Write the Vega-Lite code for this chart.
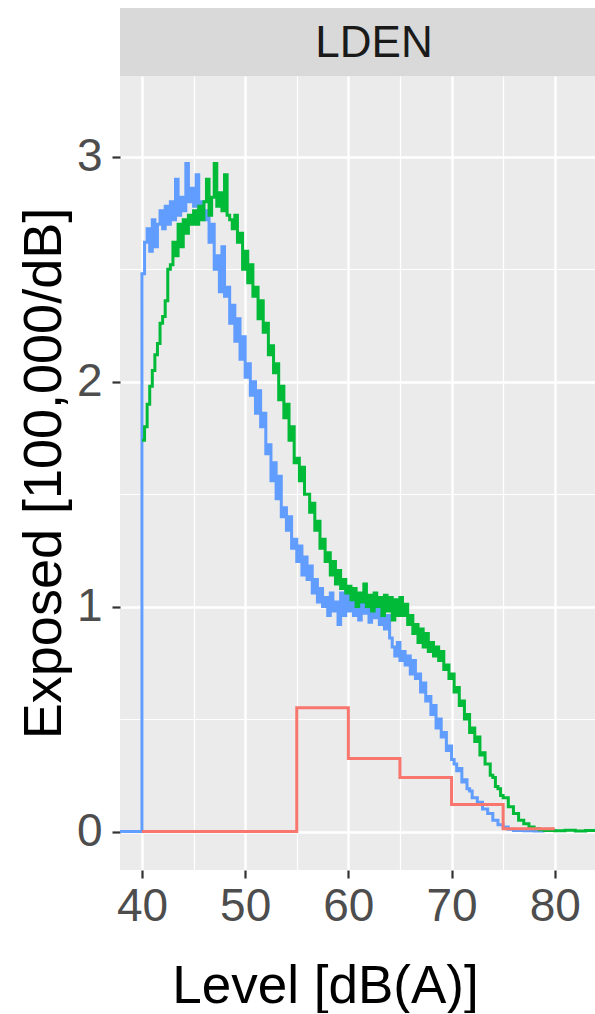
{
  "$schema": "https://vega.github.io/schema/vega-lite/v6.json",
  "background": "white",
  "padding": {"left": 17, "top": 8, "right": 0, "bottom": 0},
  "config": {
    "font": "Liberation Sans",
    "concat": {"spacing": 0}
  },
  "datasets": {
    "strip": [{"panel": "LDEN"}],
    "curves": [
      {"series": "Model B", "level": 35, "exposed": 0},
      {"series": "Model B", "level": 40, "exposed": 2.48},
      {"series": "Model B", "level": 40.25, "exposed": 2.62},
      {"series": "Model B", "level": 40.5, "exposed": 2.68},
      {"series": "Model B", "level": 40.75, "exposed": 2.58},
      {"series": "Model B", "level": 41, "exposed": 2.72},
      {"series": "Model B", "level": 41.25, "exposed": 2.6},
      {"series": "Model B", "level": 41.5, "exposed": 2.7},
      {"series": "Model B", "level": 41.75, "exposed": 2.76},
      {"series": "Model B", "level": 42, "exposed": 2.68},
      {"series": "Model B", "level": 42.25, "exposed": 2.78},
      {"series": "Model B", "level": 42.5, "exposed": 2.7},
      {"series": "Model B", "level": 42.75, "exposed": 2.8},
      {"series": "Model B", "level": 43, "exposed": 2.72},
      {"series": "Model B", "level": 43.25, "exposed": 2.9},
      {"series": "Model B", "level": 43.5, "exposed": 2.74},
      {"series": "Model B", "level": 43.75, "exposed": 2.82},
      {"series": "Model B", "level": 44, "exposed": 2.76},
      {"series": "Model B", "level": 44.25, "exposed": 2.97},
      {"series": "Model B", "level": 44.5, "exposed": 2.8},
      {"series": "Model B", "level": 44.75, "exposed": 2.86},
      {"series": "Model B", "level": 45, "exposed": 2.78},
      {"series": "Model B", "level": 45.25, "exposed": 2.92},
      {"series": "Model B", "level": 45.5, "exposed": 2.74},
      {"series": "Model B", "level": 45.75, "exposed": 2.8},
      {"series": "Model B", "level": 46, "exposed": 2.72},
      {"series": "Model B", "level": 46.25, "exposed": 2.76},
      {"series": "Model B", "level": 46.5, "exposed": 2.62},
      {"series": "Model B", "level": 46.75, "exposed": 2.7},
      {"series": "Model B", "level": 47, "exposed": 2.5},
      {"series": "Model B", "level": 47.25, "exposed": 2.56},
      {"series": "Model B", "level": 47.5, "exposed": 2.4},
      {"series": "Model B", "level": 47.75, "exposed": 2.6},
      {"series": "Model B", "level": 48, "exposed": 2.38},
      {"series": "Model B", "level": 48.25, "exposed": 2.42},
      {"series": "Model B", "level": 48.5, "exposed": 2.26},
      {"series": "Model B", "level": 48.75, "exposed": 2.34},
      {"series": "Model B", "level": 49, "exposed": 2.18},
      {"series": "Model B", "level": 49.25, "exposed": 2.28},
      {"series": "Model B", "level": 49.5, "exposed": 2.1},
      {"series": "Model B", "level": 49.75, "exposed": 2.2},
      {"series": "Model B", "level": 50, "exposed": 2.02},
      {"series": "Model B", "level": 50.25, "exposed": 2.08},
      {"series": "Model B", "level": 50.5, "exposed": 1.94},
      {"series": "Model B", "level": 50.75, "exposed": 2.0},
      {"series": "Model B", "level": 51, "exposed": 1.86},
      {"series": "Model B", "level": 51.25, "exposed": 1.96},
      {"series": "Model B", "level": 51.5, "exposed": 1.8},
      {"series": "Model B", "level": 51.75, "exposed": 1.86},
      {"series": "Model B", "level": 52, "exposed": 1.68},
      {"series": "Model B", "level": 52.25, "exposed": 1.72},
      {"series": "Model B", "level": 52.5, "exposed": 1.56},
      {"series": "Model B", "level": 52.75, "exposed": 1.64},
      {"series": "Model B", "level": 53, "exposed": 1.48},
      {"series": "Model B", "level": 53.25, "exposed": 1.58},
      {"series": "Model B", "level": 53.5, "exposed": 1.4},
      {"series": "Model B", "level": 53.75, "exposed": 1.44},
      {"series": "Model B", "level": 54, "exposed": 1.34},
      {"series": "Model B", "level": 54.25, "exposed": 1.4},
      {"series": "Model B", "level": 54.5, "exposed": 1.26},
      {"series": "Model B", "level": 54.75, "exposed": 1.3},
      {"series": "Model B", "level": 55, "exposed": 1.2},
      {"series": "Model B", "level": 55.25, "exposed": 1.27},
      {"series": "Model B", "level": 55.5, "exposed": 1.14},
      {"series": "Model B", "level": 55.75, "exposed": 1.22},
      {"series": "Model B", "level": 56, "exposed": 1.12},
      {"series": "Model B", "level": 56.25, "exposed": 1.18},
      {"series": "Model B", "level": 56.5, "exposed": 1.06},
      {"series": "Model B", "level": 56.75, "exposed": 1.12},
      {"series": "Model B", "level": 57, "exposed": 1.02},
      {"series": "Model B", "level": 57.25, "exposed": 1.08},
      {"series": "Model B", "level": 57.5, "exposed": 1.0},
      {"series": "Model B", "level": 57.75, "exposed": 1.04},
      {"series": "Model B", "level": 58, "exposed": 0.96},
      {"series": "Model B", "level": 58.25, "exposed": 1.06},
      {"series": "Model B", "level": 58.5, "exposed": 0.98},
      {"series": "Model B", "level": 58.75, "exposed": 1.02},
      {"series": "Model B", "level": 59, "exposed": 0.92},
      {"series": "Model B", "level": 59.25, "exposed": 1.06},
      {"series": "Model B", "level": 59.5, "exposed": 0.96},
      {"series": "Model B", "level": 59.75, "exposed": 1.08},
      {"series": "Model B", "level": 60, "exposed": 0.98},
      {"series": "Model B", "level": 60.25, "exposed": 1.04},
      {"series": "Model B", "level": 60.5, "exposed": 0.96},
      {"series": "Model B", "level": 60.75, "exposed": 1.02},
      {"series": "Model B", "level": 61, "exposed": 0.94},
      {"series": "Model B", "level": 61.25, "exposed": 1.05},
      {"series": "Model B", "level": 61.5, "exposed": 0.97},
      {"series": "Model B", "level": 61.75, "exposed": 1.02},
      {"series": "Model B", "level": 62, "exposed": 0.93},
      {"series": "Model B", "level": 62.25, "exposed": 1.0},
      {"series": "Model B", "level": 62.5, "exposed": 0.95},
      {"series": "Model B", "level": 62.75, "exposed": 1.01},
      {"series": "Model B", "level": 63, "exposed": 0.92},
      {"series": "Model B", "level": 63.25, "exposed": 0.98},
      {"series": "Model B", "level": 63.5, "exposed": 0.9},
      {"series": "Model B", "level": 63.75, "exposed": 0.96},
      {"series": "Model B", "level": 64, "exposed": 0.86},
      {"series": "Model B", "level": 64.25, "exposed": 0.82},
      {"series": "Model B", "level": 64.5, "exposed": 0.78},
      {"series": "Model B", "level": 64.75, "exposed": 0.84},
      {"series": "Model B", "level": 65, "exposed": 0.76},
      {"series": "Model B", "level": 65.25, "exposed": 0.8},
      {"series": "Model B", "level": 65.5, "exposed": 0.74},
      {"series": "Model B", "level": 65.75, "exposed": 0.78},
      {"series": "Model B", "level": 66, "exposed": 0.7},
      {"series": "Model B", "level": 66.25, "exposed": 0.76},
      {"series": "Model B", "level": 66.5, "exposed": 0.68},
      {"series": "Model B", "level": 66.75, "exposed": 0.7},
      {"series": "Model B", "level": 67, "exposed": 0.62},
      {"series": "Model B", "level": 67.25, "exposed": 0.66},
      {"series": "Model B", "level": 67.5, "exposed": 0.58},
      {"series": "Model B", "level": 67.75, "exposed": 0.6},
      {"series": "Model B", "level": 68, "exposed": 0.52},
      {"series": "Model B", "level": 68.25, "exposed": 0.56},
      {"series": "Model B", "level": 68.5, "exposed": 0.46},
      {"series": "Model B", "level": 68.75, "exposed": 0.5},
      {"series": "Model B", "level": 69, "exposed": 0.42},
      {"series": "Model B", "level": 69.25, "exposed": 0.44},
      {"series": "Model B", "level": 69.5, "exposed": 0.36},
      {"series": "Model B", "level": 69.75, "exposed": 0.38},
      {"series": "Model B", "level": 70, "exposed": 0.32},
      {"series": "Model B", "level": 70.25, "exposed": 0.3},
      {"series": "Model B", "level": 70.5, "exposed": 0.27},
      {"series": "Model B", "level": 70.75, "exposed": 0.28},
      {"series": "Model B", "level": 71, "exposed": 0.22},
      {"series": "Model B", "level": 71.25, "exposed": 0.23},
      {"series": "Model B", "level": 71.5, "exposed": 0.19},
      {"series": "Model B", "level": 71.75, "exposed": 0.18},
      {"series": "Model B", "level": 72, "exposed": 0.15},
      {"series": "Model B", "level": 72.5, "exposed": 0.13},
      {"series": "Model B", "level": 73, "exposed": 0.1},
      {"series": "Model B", "level": 73.5, "exposed": 0.08},
      {"series": "Model B", "level": 74, "exposed": 0.05},
      {"series": "Model B", "level": 74.5, "exposed": 0.03},
      {"series": "Model B", "level": 75, "exposed": 0.02},
      {"series": "Model B", "level": 75.5, "exposed": 0.01},
      {"series": "Model B", "level": 76, "exposed": 0.005},
      {"series": "Model B", "level": 77, "exposed": 0.003},
      {"series": "Model B", "level": 78, "exposed": 0.002},
      {"series": "Model B", "level": 79, "exposed": 0.0},
      {"series": "Model A", "level": 40, "exposed": 1.74},
      {"series": "Model A", "level": 40.25, "exposed": 1.8},
      {"series": "Model A", "level": 40.5, "exposed": 1.9},
      {"series": "Model A", "level": 40.75, "exposed": 1.98},
      {"series": "Model A", "level": 41, "exposed": 2.05},
      {"series": "Model A", "level": 41.25, "exposed": 2.12},
      {"series": "Model A", "level": 41.5, "exposed": 2.17},
      {"series": "Model A", "level": 41.75, "exposed": 2.26},
      {"series": "Model A", "level": 42, "exposed": 2.29},
      {"series": "Model A", "level": 42.25, "exposed": 2.36},
      {"series": "Model A", "level": 42.5, "exposed": 2.5},
      {"series": "Model A", "level": 42.75, "exposed": 2.52},
      {"series": "Model A", "level": 43, "exposed": 2.62},
      {"series": "Model A", "level": 43.25, "exposed": 2.56},
      {"series": "Model A", "level": 43.5, "exposed": 2.7},
      {"series": "Model A", "level": 43.75, "exposed": 2.6},
      {"series": "Model A", "level": 44, "exposed": 2.72},
      {"series": "Model A", "level": 44.25, "exposed": 2.66},
      {"series": "Model A", "level": 44.5, "exposed": 2.74},
      {"series": "Model A", "level": 44.75, "exposed": 2.7},
      {"series": "Model A", "level": 45, "exposed": 2.76},
      {"series": "Model A", "level": 45.25, "exposed": 2.7},
      {"series": "Model A", "level": 45.5, "exposed": 2.78},
      {"series": "Model A", "level": 45.75, "exposed": 2.72},
      {"series": "Model A", "level": 46, "exposed": 2.8},
      {"series": "Model A", "level": 46.25, "exposed": 2.9},
      {"series": "Model A", "level": 46.5, "exposed": 2.74},
      {"series": "Model A", "level": 46.75, "exposed": 2.82},
      {"series": "Model A", "level": 47, "exposed": 2.97},
      {"series": "Model A", "level": 47.25, "exposed": 2.78},
      {"series": "Model A", "level": 47.5, "exposed": 2.84},
      {"series": "Model A", "level": 47.75, "exposed": 2.76},
      {"series": "Model A", "level": 48, "exposed": 2.92},
      {"series": "Model A", "level": 48.25, "exposed": 2.74},
      {"series": "Model A", "level": 48.5, "exposed": 2.72},
      {"series": "Model A", "level": 48.75, "exposed": 2.68},
      {"series": "Model A", "level": 49, "exposed": 2.74},
      {"series": "Model A", "level": 49.25, "exposed": 2.62},
      {"series": "Model A", "level": 49.5, "exposed": 2.66},
      {"series": "Model A", "level": 49.75, "exposed": 2.5},
      {"series": "Model A", "level": 50, "exposed": 2.58},
      {"series": "Model A", "level": 50.25, "exposed": 2.44},
      {"series": "Model A", "level": 50.5, "exposed": 2.52},
      {"series": "Model A", "level": 50.75, "exposed": 2.38},
      {"series": "Model A", "level": 51, "exposed": 2.42},
      {"series": "Model A", "level": 51.25, "exposed": 2.28},
      {"series": "Model A", "level": 51.5, "exposed": 2.36},
      {"series": "Model A", "level": 51.75, "exposed": 2.22},
      {"series": "Model A", "level": 52, "exposed": 2.26},
      {"series": "Model A", "level": 52.25, "exposed": 2.12},
      {"series": "Model A", "level": 52.5, "exposed": 2.16},
      {"series": "Model A", "level": 52.75, "exposed": 2.04},
      {"series": "Model A", "level": 53, "exposed": 2.08},
      {"series": "Model A", "level": 53.25, "exposed": 1.92},
      {"series": "Model A", "level": 53.5, "exposed": 1.98},
      {"series": "Model A", "level": 53.75, "exposed": 1.84},
      {"series": "Model A", "level": 54, "exposed": 1.9},
      {"series": "Model A", "level": 54.25, "exposed": 1.74},
      {"series": "Model A", "level": 54.5, "exposed": 1.8},
      {"series": "Model A", "level": 54.75, "exposed": 1.64},
      {"series": "Model A", "level": 55, "exposed": 1.66},
      {"series": "Model A", "level": 55.25, "exposed": 1.56},
      {"series": "Model A", "level": 55.5, "exposed": 1.62},
      {"series": "Model A", "level": 55.75, "exposed": 1.5},
      {"series": "Model A", "level": 56, "exposed": 1.5},
      {"series": "Model A", "level": 56.25, "exposed": 1.42},
      {"series": "Model A", "level": 56.5, "exposed": 1.46},
      {"series": "Model A", "level": 56.75, "exposed": 1.34},
      {"series": "Model A", "level": 57, "exposed": 1.38},
      {"series": "Model A", "level": 57.25, "exposed": 1.26},
      {"series": "Model A", "level": 57.5, "exposed": 1.3},
      {"series": "Model A", "level": 57.75, "exposed": 1.2},
      {"series": "Model A", "level": 58, "exposed": 1.24},
      {"series": "Model A", "level": 58.25, "exposed": 1.14},
      {"series": "Model A", "level": 58.5, "exposed": 1.2},
      {"series": "Model A", "level": 58.75, "exposed": 1.1},
      {"series": "Model A", "level": 59, "exposed": 1.16},
      {"series": "Model A", "level": 59.25, "exposed": 1.08},
      {"series": "Model A", "level": 59.5, "exposed": 1.12},
      {"series": "Model A", "level": 59.75, "exposed": 1.06},
      {"series": "Model A", "level": 60, "exposed": 1.09},
      {"series": "Model A", "level": 60.25, "exposed": 1.03},
      {"series": "Model A", "level": 60.5, "exposed": 1.08},
      {"series": "Model A", "level": 60.75, "exposed": 1.0},
      {"series": "Model A", "level": 61, "exposed": 1.06},
      {"series": "Model A", "level": 61.25, "exposed": 1.02},
      {"series": "Model A", "level": 61.5, "exposed": 1.1},
      {"series": "Model A", "level": 61.75, "exposed": 1.0},
      {"series": "Model A", "level": 62, "exposed": 1.05},
      {"series": "Model A", "level": 62.25, "exposed": 0.98},
      {"series": "Model A", "level": 62.5, "exposed": 1.06},
      {"series": "Model A", "level": 62.75, "exposed": 1.0},
      {"series": "Model A", "level": 63, "exposed": 1.04},
      {"series": "Model A", "level": 63.25, "exposed": 0.96},
      {"series": "Model A", "level": 63.5, "exposed": 1.05},
      {"series": "Model A", "level": 63.75, "exposed": 0.98},
      {"series": "Model A", "level": 64, "exposed": 1.04},
      {"series": "Model A", "level": 64.25, "exposed": 0.94},
      {"series": "Model A", "level": 64.5, "exposed": 1.03},
      {"series": "Model A", "level": 64.75, "exposed": 0.96},
      {"series": "Model A", "level": 65, "exposed": 1.04},
      {"series": "Model A", "level": 65.25, "exposed": 0.96},
      {"series": "Model A", "level": 65.5, "exposed": 1.01},
      {"series": "Model A", "level": 65.75, "exposed": 0.92},
      {"series": "Model A", "level": 66, "exposed": 0.96},
      {"series": "Model A", "level": 66.25, "exposed": 0.88},
      {"series": "Model A", "level": 66.5, "exposed": 0.92},
      {"series": "Model A", "level": 66.75, "exposed": 0.84},
      {"series": "Model A", "level": 67, "exposed": 0.9},
      {"series": "Model A", "level": 67.25, "exposed": 0.82},
      {"series": "Model A", "level": 67.5, "exposed": 0.88},
      {"series": "Model A", "level": 67.75, "exposed": 0.8},
      {"series": "Model A", "level": 68, "exposed": 0.84},
      {"series": "Model A", "level": 68.25, "exposed": 0.78},
      {"series": "Model A", "level": 68.5, "exposed": 0.82},
      {"series": "Model A", "level": 68.75, "exposed": 0.76},
      {"series": "Model A", "level": 69, "exposed": 0.8},
      {"series": "Model A", "level": 69.25, "exposed": 0.72},
      {"series": "Model A", "level": 69.5, "exposed": 0.74},
      {"series": "Model A", "level": 69.75, "exposed": 0.68},
      {"series": "Model A", "level": 70, "exposed": 0.7},
      {"series": "Model A", "level": 70.25, "exposed": 0.62},
      {"series": "Model A", "level": 70.5, "exposed": 0.64},
      {"series": "Model A", "level": 70.75, "exposed": 0.56},
      {"series": "Model A", "level": 71, "exposed": 0.58},
      {"series": "Model A", "level": 71.25, "exposed": 0.5},
      {"series": "Model A", "level": 71.5, "exposed": 0.52},
      {"series": "Model A", "level": 71.75, "exposed": 0.44},
      {"series": "Model A", "level": 72, "exposed": 0.46},
      {"series": "Model A", "level": 72.25, "exposed": 0.4},
      {"series": "Model A", "level": 72.5, "exposed": 0.42},
      {"series": "Model A", "level": 72.75, "exposed": 0.34},
      {"series": "Model A", "level": 73, "exposed": 0.35},
      {"series": "Model A", "level": 73.25, "exposed": 0.3},
      {"series": "Model A", "level": 73.5, "exposed": 0.3},
      {"series": "Model A", "level": 73.75, "exposed": 0.25},
      {"series": "Model A", "level": 74, "exposed": 0.24},
      {"series": "Model A", "level": 74.25, "exposed": 0.2},
      {"series": "Model A", "level": 74.5, "exposed": 0.19},
      {"series": "Model A", "level": 74.75, "exposed": 0.16},
      {"series": "Model A", "level": 75, "exposed": 0.15},
      {"series": "Model A", "level": 75.5, "exposed": 0.11},
      {"series": "Model A", "level": 76, "exposed": 0.08},
      {"series": "Model A", "level": 76.5, "exposed": 0.05},
      {"series": "Model A", "level": 77, "exposed": 0.035},
      {"series": "Model A", "level": 77.5, "exposed": 0.02},
      {"series": "Model A", "level": 78, "exposed": 0.012},
      {"series": "Model A", "level": 78.5, "exposed": 0.008},
      {"series": "Model A", "level": 79, "exposed": 0.005},
      {"series": "Model A", "level": 80, "exposed": 0.003},
      {"series": "Model A", "level": 81, "exposed": 0.006},
      {"series": "Model A", "level": 82, "exposed": 0.002},
      {"series": "Model A", "level": 83, "exposed": 0.005},
      {"series": "Model A", "level": 84.7, "exposed": 0.002},
      {"series": "Classes", "level": 40, "exposed": 0},
      {"series": "Classes", "level": 55, "exposed": 0.55},
      {"series": "Classes", "level": 60, "exposed": 0.325},
      {"series": "Classes", "level": 65, "exposed": 0.24},
      {"series": "Classes", "level": 70, "exposed": 0.12},
      {"series": "Classes", "level": 75, "exposed": 0.012},
      {"series": "Classes", "level": 80, "exposed": 0.012}
    ]
  },
  "vconcat": [
    {
      "width": 476,
      "height": 68,
      "view": {"fill": "#D9D9D9", "stroke": null},
      "data": {"name": "strip"},
      "mark": {"type": "text", "fontSize": 44, "color": "#1A1A1A", "dx": 16, "dy": 2, "baseline": "middle", "align": "center"},
      "encoding": {"text": {"field": "panel", "type": "nominal"}}
    },
    {
      "width": 476,
      "height": 794,
      "view": {"fill": "#EBEBEB", "stroke": null},
      "data": {"name": "curves"},
      "mark": {"type": "line", "interpolate": "step-after", "strokeWidth": 3, "clip": true},
      "encoding": {
        "x": {
          "field": "level",
          "type": "quantitative",
          "scale": {"domain": [37.87, 84.0], "nice": false, "zero": false},
          "axis": {
            "title": "Level [dB(A)]",
            "values": [40, 45, 50, 55, 60, 65, 70, 75, 80],
            "labelExpr": "datum.value % 10 === 0 ? format(datum.value, 'd') : ''",
            "labelFontSize": 46,
            "labelColor": "#4D4D4D",
            "labelPadding": 6,
            "labelFlush": false,
            "labelOverlap": false,
            "tickSize": 8,
            "tickColor": "#333333",
            "tickWidth": {"condition": {"test": "datum.value % 10 === 0", "value": 2.2}, "value": 0},
            "domain": false,
            "grid": true,
            "gridColor": "#FFFFFF",
            "gridWidth": {"condition": {"test": "datum.value % 10 === 0", "value": 2.4}, "value": 1.2},
            "titleFontSize": 53,
            "titleFontWeight": "normal",
            "titleColor": "#000000",
            "titleX": 205,
            "titleY": 132,
            "titleBaseline": "alphabetic",
            "titleAlign": "center"
          }
        },
        "y": {
          "field": "exposed",
          "type": "quantitative",
          "scale": {"domain": [-0.171, 3.359], "nice": false, "zero": false},
          "axis": {
            "title": "Exposed [100,000/dB]",
            "values": [0, 0.5, 1, 1.5, 2, 2.5, 3],
            "labelExpr": "datum.value % 1 === 0 ? format(datum.value, 'd') : ''",
            "labelFontSize": 46,
            "labelColor": "#4D4D4D",
            "labelPadding": 10,
            "labelFlush": false,
            "labelOverlap": false,
            "tickSize": 8,
            "tickColor": "#333333",
            "tickWidth": {"condition": {"test": "datum.value % 1 === 0", "value": 2.2}, "value": 0},
            "domain": false,
            "grid": true,
            "gridColor": "#FFFFFF",
            "gridWidth": {"condition": {"test": "datum.value % 1 === 0", "value": 2.4}, "value": 1.2},
            "titleFontSize": 54,
            "titleFontWeight": "normal",
            "titleColor": "#000000",
            "titleX": -60,
            "titleY": 397,
            "titleBaseline": "alphabetic",
            "titleAlign": "center",
            "titleAngle": -90
          }
        },
        "color": {
          "field": "series",
          "type": "nominal",
          "scale": {"domain": ["Classes", "Model A", "Model B"], "range": ["#F8766D", "#00BA38", "#619CFF"]},
          "legend": null
        }
      }
    }
  ]
}
